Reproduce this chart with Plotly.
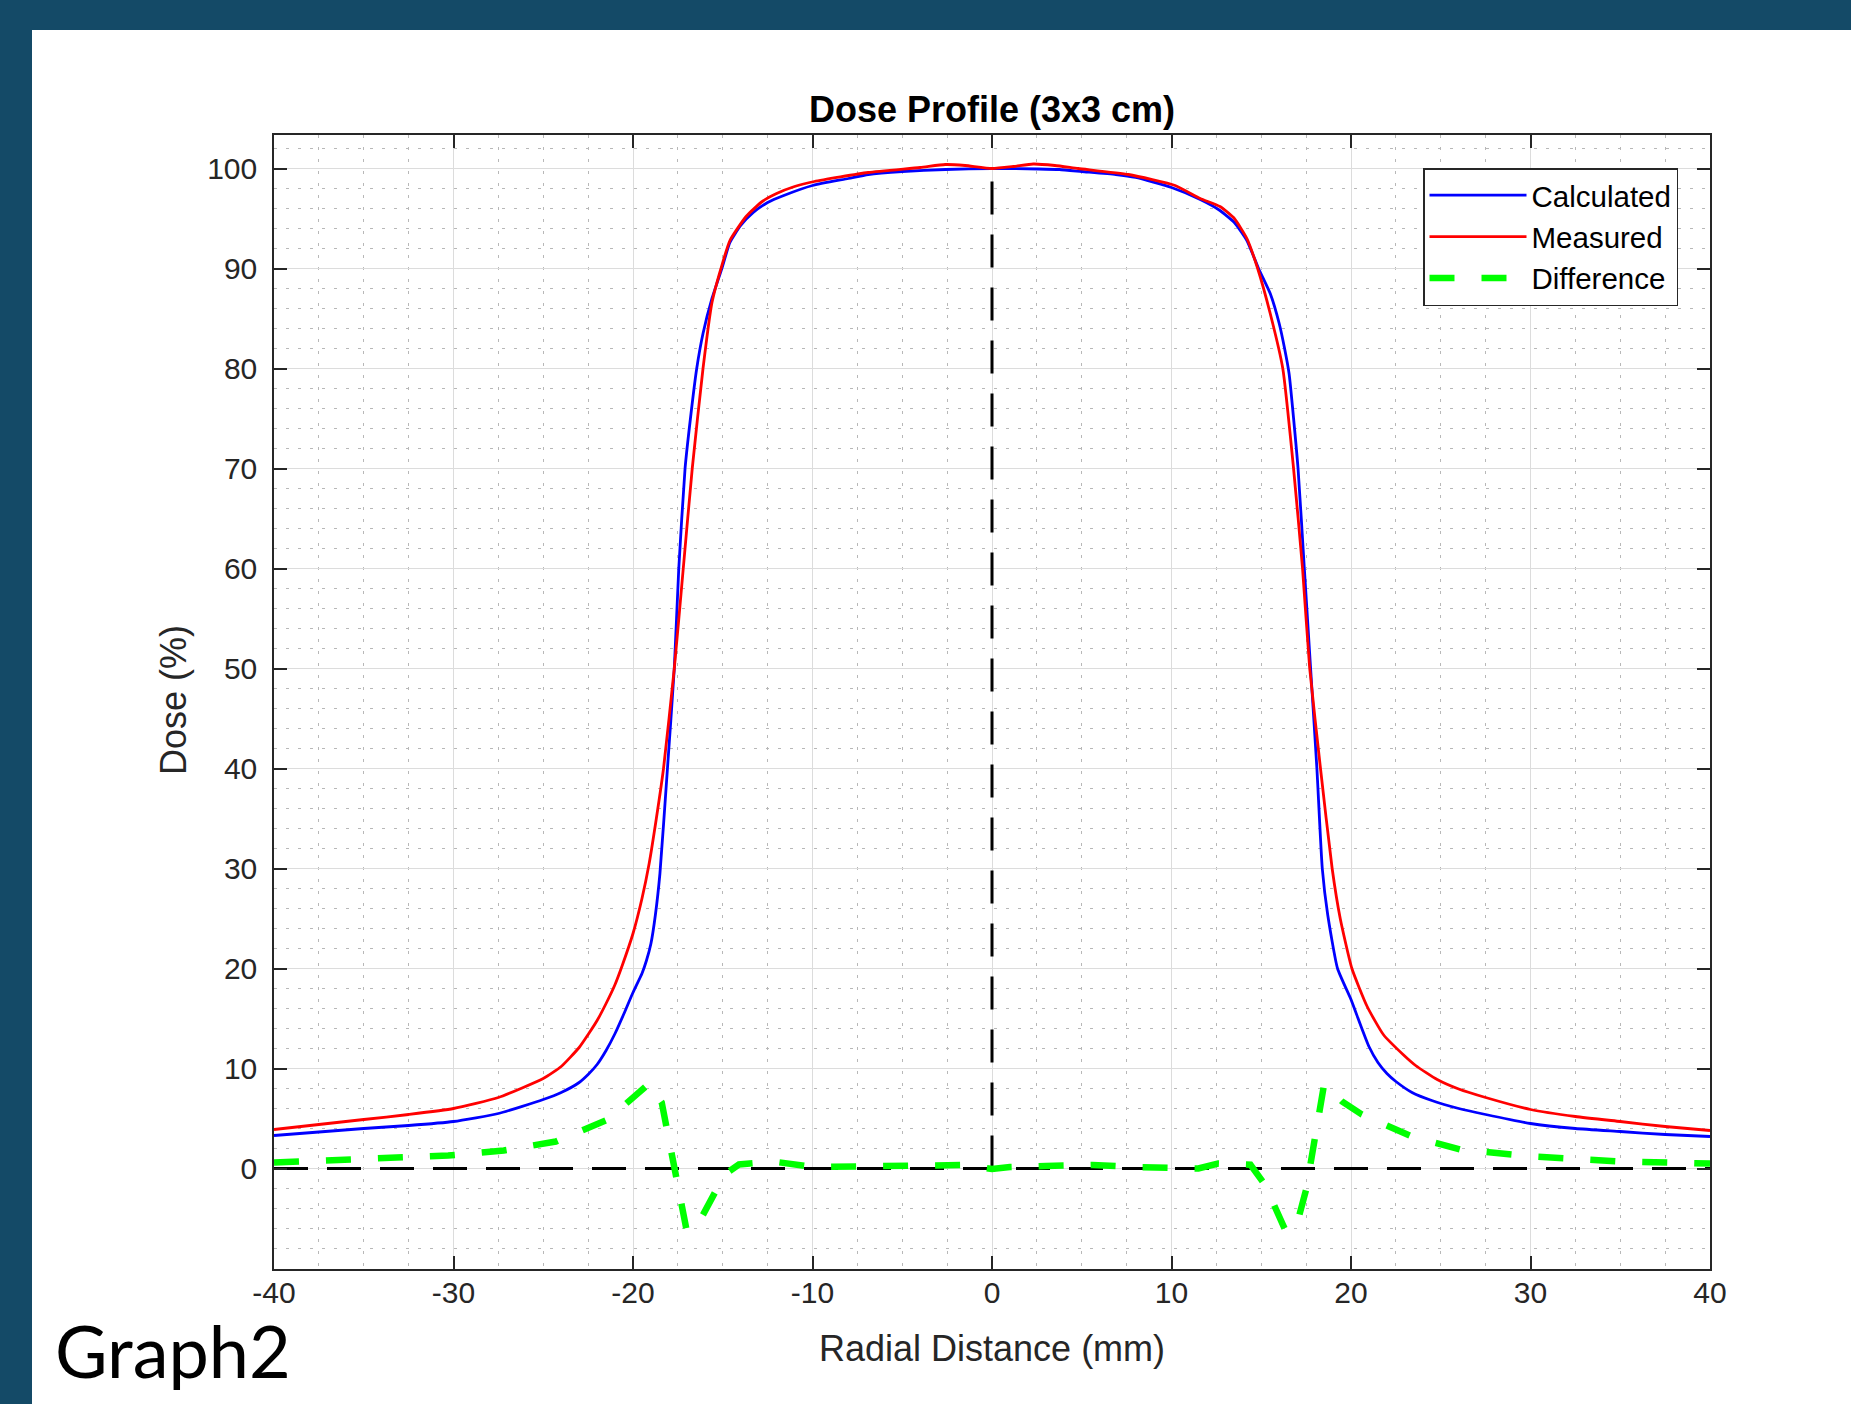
import plotly.graph_objects as go

# ---------------- data ----------------
calc_x = [-40, -37.5, -35, -32.5, -30, -27.5, -25, -24, -23, -22.5, -22, -21.5, -21, -20.5, -20,
          -19.5, -19.25, -19, -18.75, -18.5, -18.1, -17.7, -17.45, -17.1, -16.8, -16.45, -16.1,
          -15.6, -15.05, -14.6, -14, -13.3, -12.5, -11.6, -10, -8, -6.9, -5, -2.6, 0, 2.6, 3.75,
          5, 6.9, 8, 10, 11.6, 12.7, 13.5, 14.2, 14.85, 15.5, 16.0, 16.3, 16.55, 17.05, 17.4, 17.75,
          18.1, 18.4, 18.7, 19.25, 20, 20.5, 21, 21.5, 22, 22.5, 23.4, 24.5, 26, 27.5, 30, 32.5,
          35, 37.5, 40]
calc_y = [3.3, 3.65, 4.0, 4.3, 4.7, 5.5, 6.9, 7.6, 8.6, 9.4, 10.4, 11.8, 13.5, 15.5, 17.6,
          19.5, 20.8, 22.5, 25.4, 29.5, 39.5, 50, 60, 70, 75, 80, 83.5,
          87, 90, 92.6, 94.3, 95.6, 96.6, 97.3, 98.3, 99.0, 99.4, 99.7, 99.9, 100, 99.95, 99.9,
          99.7, 99.4, 99.1, 98.1, 96.9, 95.8, 94.6, 92.8, 90, 87.5, 84.5, 82, 79.5, 70, 60, 50,
          40, 30, 25.4, 20, 16.9, 14.5, 12.2, 10.6, 9.5, 8.7, 7.6, 6.8, 6.0, 5.4, 4.5, 4.0,
          3.7, 3.4, 3.2]

meas_x = [-40, -37.5, -35, -32.5, -30, -27.5, -25, -24, -23, -22.5, -22, -21.5, -21, -20.6, -20,
          -19.5, -19.1, -18.7, -18.3, -17.7, -17.2, -16.7, -16.1, -15.6, -15.1, -14.6, -13.7,
          -12.8, -12.0, -11.0, -9.9, -6.9, -4, -2.6, -1.5, 0, 1.2, 2.3, 3.5, 4.8, 7.6, 10.2, 11.6,
          12.7, 13.5, 14.2, 14.8, 15.5, 16.2, 16.8, 17.3, 17.7, 18.3, 18.95, 19.4, 20.05, 20.9,
          21.8, 22.9, 23.6, 24.8, 26, 27.5, 30, 32.5, 35, 37.5, 40]
meas_y = [3.9, 4.4, 4.9, 5.4, 6.0, 7.1, 9.0, 10.2, 12.1, 13.4, 14.8, 16.5, 18.4, 20.3, 23.5,
          27, 30.5, 35, 40, 50, 60, 70, 80, 86.6, 90, 92.8, 95.2,
          96.7, 97.5, 98.2, 98.7, 99.6, 100.1, 100.4, 100.3, 100, 100.2, 100.45, 100.3, 100.0, 99.4,
          98.3, 97.0,
          96.2, 95.0, 93.0, 90, 85.5, 80, 70, 60, 50, 40, 30, 25, 20, 16.2,
          13.4, 11.4, 10.3, 8.9, 7.95, 7.1, 5.9, 5.2, 4.7, 4.2, 3.8]

diff_x = [-40, -36.8, -33.5, -30.3, -27.2, -24.3, -21.4, -19.8, -19.1, -18.4, -17.0, -16.3, -15.6,
          -14.9, -14.1, -12.2, -10.0, -8.0, -6.0, -4.0, -2.4, -1.4, 0.0, 1.0, 3.0, 5.6, 8.0, 10.0,
          11.5, 12.6, 14.4, 15.2, 16.4, 17.1, 17.5, 18.5, 19.5, 20.6, 23.4, 26.1, 30.1, 35.0, 40.0]
diff_y = [0.6, 0.8, 1.0, 1.3, 1.8, 2.7, 4.9, 7.3, 8.5, 6.6, -6.3, -5.3, -2.9,
          -0.6, 0.4, 0.7, 0.15, 0.2, 0.2, 0.3, 0.45, 0.35, -0.05, 0.15, 0.25, 0.35, 0.15, 0.1,
          0.0, 0.5, 0.37, -1.6, -6.4, -4.8, -2.1, 8.4, 6.7, 5.4, 3.2, 1.9, 1.2, 0.7, 0.5]

ref_h_x = [-40, 40]
ref_h_y = [0, 0]
ref_v_x = [0, 0]
ref_v_y = [0, 100]

x_ticks = [-40, -30, -20, -10, 0, 10, 20, 30, 40]
x_tick_labels = ["-40", "-30", "-20", "-10", "0", "10", "20", "30", "40"]
y_ticks = [0, 10, 20, 30, 40, 50, 60, 70, 80, 90, 100]
y_tick_labels = ["0", "10", "20", "30", "40", "50", "60", "70", "80", "90", "100"]

# ---------------- layout geometry ----------------
W, H = 1851, 1404
PL, PR, PT, PB = 274, 1710, 135, 1269


def px(xp):
    return (xp - PL) / (PR - PL)


def py(yp):
    return (PB - yp) / (PB - PT)


AX = "#262626"
FONT = "Liberation Sans, Arial, Helvetica, sans-serif"
BAND = "#144a67"

fig = go.Figure()

fig.add_trace(go.Scatter(x=ref_h_x, y=ref_h_y, mode="lines", showlegend=False,
                         line=dict(color="black", width=3, dash="34px,19px"), hoverinfo="skip"))
fig.add_trace(go.Scatter(x=ref_v_x, y=ref_v_y, mode="lines", showlegend=False,
                         line=dict(color="black", width=3, dash="33px,20px"), hoverinfo="skip"))
fig.add_trace(go.Scatter(x=calc_x, y=calc_y, mode="lines", name="Calculated",
                         line=dict(color="#0000ff", width=2.8, shape="spline", smoothing=0.5)))
fig.add_trace(go.Scatter(x=meas_x, y=meas_y, mode="lines", name="Measured",
                         line=dict(color="#ff0000", width=2.8, shape="spline", smoothing=0.5)))
fig.add_trace(go.Scatter(x=diff_x, y=diff_y, mode="lines", name="Difference",
                         line=dict(color="#00ff00", width=6.5, dash="25px,27px")))

axis_common = dict(
    showline=True, linecolor=AX, linewidth=1.5, mirror="ticks",
    ticks="inside", ticklen=13, tickwidth=1.5, tickcolor=AX,
    showgrid=True, gridcolor="#dcdcdc", gridwidth=1.2,
    zeroline=False,
    tickfont=dict(family=FONT, size=30, color=AX),
)

fig.update_xaxes(
    range=[-40, 40], tickmode="array", tickvals=x_ticks, ticktext=x_tick_labels,
    ticklabelstandoff=-4,
    minor=dict(tickmode="linear", tick0=0, dtick=2.5, showgrid=True,
               gridcolor="#b8b8b8", gridwidth=1, griddash="3px,9px", ticks=""),
    **axis_common)
fig.update_yaxes(
    range=[-10.05, 103.35], tickmode="array", tickvals=y_ticks, ticktext=y_tick_labels,
    ticklabelstandoff=9,
    minor=dict(tickmode="linear", tick0=0, dtick=2, showgrid=True,
               gridcolor="#b8b8b8", gridwidth=1, griddash="3px,9px", ticks=""),
    **axis_common)

shapes = [
    dict(type="rect", xref="paper", yref="paper", x0=px(-5), x1=px(32), y0=py(H + 5), y1=py(-5),
         fillcolor=BAND, line=dict(width=0), layer="above"),
    dict(type="rect", xref="paper", yref="paper", x0=px(-5), x1=px(W + 5), y0=py(30), y1=py(-5),
         fillcolor=BAND, line=dict(width=0), layer="above"),
]

annotations = [
    dict(text="Radial Distance (mm)", xref="paper", yref="paper", x=0.5, y=py(1348),
         xanchor="center", yanchor="middle", showarrow=False,
         font=dict(family=FONT, size=36, color=AX)),
    dict(text="Dose (%)", xref="paper", yref="paper", x=px(174), y=py(700),
         xanchor="center", yanchor="middle", showarrow=False, textangle=-90,
         font=dict(family=FONT, size=36, color=AX)),
    dict(text="Graph2", xref="paper", yref="paper", x=px(53), y=py(1350),
         xanchor="left", yanchor="middle", showarrow=False,
         font=dict(family="Lato, Open Sans, sans-serif", size=72, color="black")),
]

fig.update_layout(
    width=W, height=H,
    margin=dict(l=PL, r=W - PR, t=PT, b=H - PB, pad=0),
    paper_bgcolor="white", plot_bgcolor="white",
    title=dict(text="<b>Dose Profile (3x3 cm)</b>", x=0.5, xref="paper", xanchor="center",
               y=1 - 109 / H, yref="container", yanchor="middle",
               font=dict(family=FONT, size=36, color="black")),
    legend=dict(x=px(1678), y=py(168), xanchor="right", yanchor="top",
                bgcolor="white", bordercolor=AX, borderwidth=1.5,
                font=dict(family=FONT, size=29.5, color="black"),
                itemwidth=97, tracegroupgap=0),
    shapes=shapes,
    annotations=annotations,
    showlegend=True,
)

fig.write_html("out.html", config={"displayModeBar": False},
               post_script="document.body.style.margin='0';")
